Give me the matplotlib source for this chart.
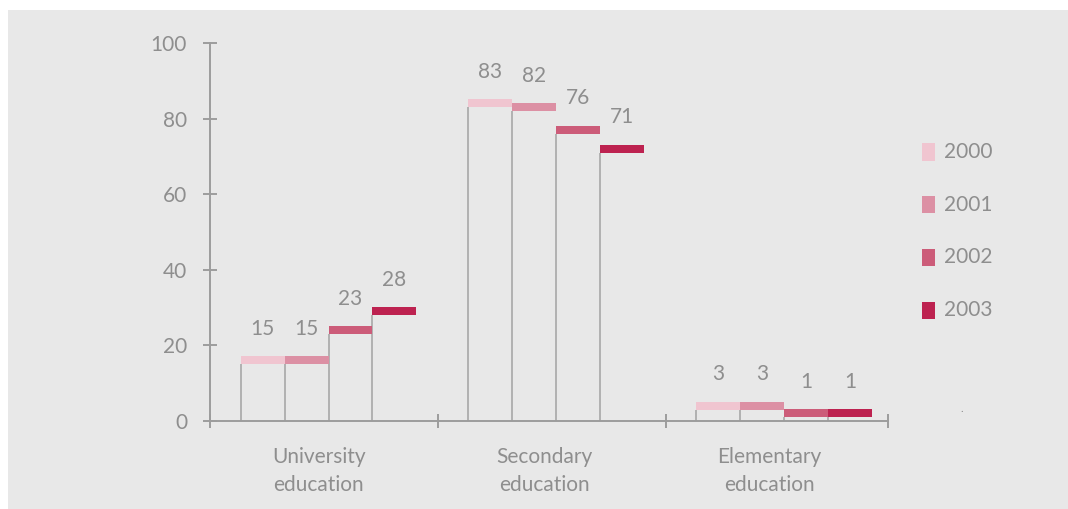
import matplotlib
matplotlib.use("Agg")
import matplotlib.pyplot as plt
from matplotlib.patches import Rectangle

plt.rcParams['font.family'] = ['Lato', 'DejaVu Sans']

categories = ['University\neducation', 'Secondary\neducation', 'Elementary\neducation']
years = ['2000', '2001', '2002', '2003']
values = {
    '2000': [15, 83, 3],
    '2001': [15, 82, 3],
    '2002': [23, 76, 1],
    '2003': [28, 71, 1],
}
colors = ['#f0c5d0', '#dc90a4', '#cc5c79', '#bd2250']

text_gray = '#8e8e8e'
axis_gray = '#9c9c9c'
line_gray = '#a8a8a8'
panel = '#e8e8e8'
fs = 15

W, H = 1068, 509
fig = plt.figure(figsize=(W / 100, H / 100), dpi=100, facecolor='white')
fig.add_artist(Rectangle((8 / W, 0), 1, (H - 10) / H, transform=fig.transFigure,
                         facecolor=panel, edgecolor='none', zorder=0))

ax = fig.add_axes([210 / W, (H - 421) / H, (888 - 210) / W, 378 / H])
ax.patch.set_visible(False)

bar_w = 0.193
cap_h = 2.1
shift = 0.02
for j, (year, c) in enumerate(zip(years, colors)):
    for g, v in enumerate(values[year]):
        left = g + shift - 2 * bar_w + j * bar_w
        ax.vlines(left, 0, v, color=line_gray, lw=1.2, zorder=2)
        ax.bar(left, cap_h, bottom=v, width=bar_w, align='edge', color=c,
               edgecolor='none', zorder=3)
        ax.annotate(str(v), (left + bar_w / 2, v + cap_h), xytext=(0, 12.5),
                    textcoords='offset points', ha='center', va='bottom',
                    fontsize=fs, color=text_gray)

ax.set_xlim(-0.5, 2.475)
ax.set_ylim(0, 100)
for s in ['top', 'right']:
    ax.spines[s].set_visible(False)
for s in ['left', 'bottom']:
    ax.spines[s].set_color(axis_gray)
    ax.spines[s].set_linewidth(1.4)

ax.set_yticks([0, 20, 40, 60, 80, 100])
ax.tick_params(axis='y', direction='inout', length=10, width=1.4, color=axis_gray,
               labelcolor=text_gray, labelsize=fs, pad=11.5)

ax.set_xticks([-0.5, 0.5, 1.5, 2.474])
ax.set_xticklabels([])
ax.tick_params(axis='x', which='major', direction='inout', length=10, width=1.4,
               color=axis_gray)
ax.set_xticks([-0.022, 0.969, 1.956], minor=True)
ax.set_xticklabels(categories, minor=True, linespacing=1.45)
ax.tick_params(axis='x', which='minor', length=0, pad=19, labelcolor=text_gray,
               labelsize=fs)

# legend drawn as swatches plus labels in figure pixels
for i, (year, c) in enumerate(zip(years, colors)):
    yc = 152 + i * 52.7
    fig.add_artist(Rectangle((922 / W, (H - yc - 8.5) / H), 13 / W, 17 / H,
                             transform=fig.transFigure, facecolor=c,
                             edgecolor='none'))
    fig.text(944 / W, (H - yc) / H, year, ha='left', va='center',
             fontsize=fs, color=text_gray)

fig.text(962 / W, (H - 412) / H, '.', ha='center', va='baseline', fontsize=8,
         color=text_gray)

fig.savefig('out.png', dpi=100, facecolor='white')
